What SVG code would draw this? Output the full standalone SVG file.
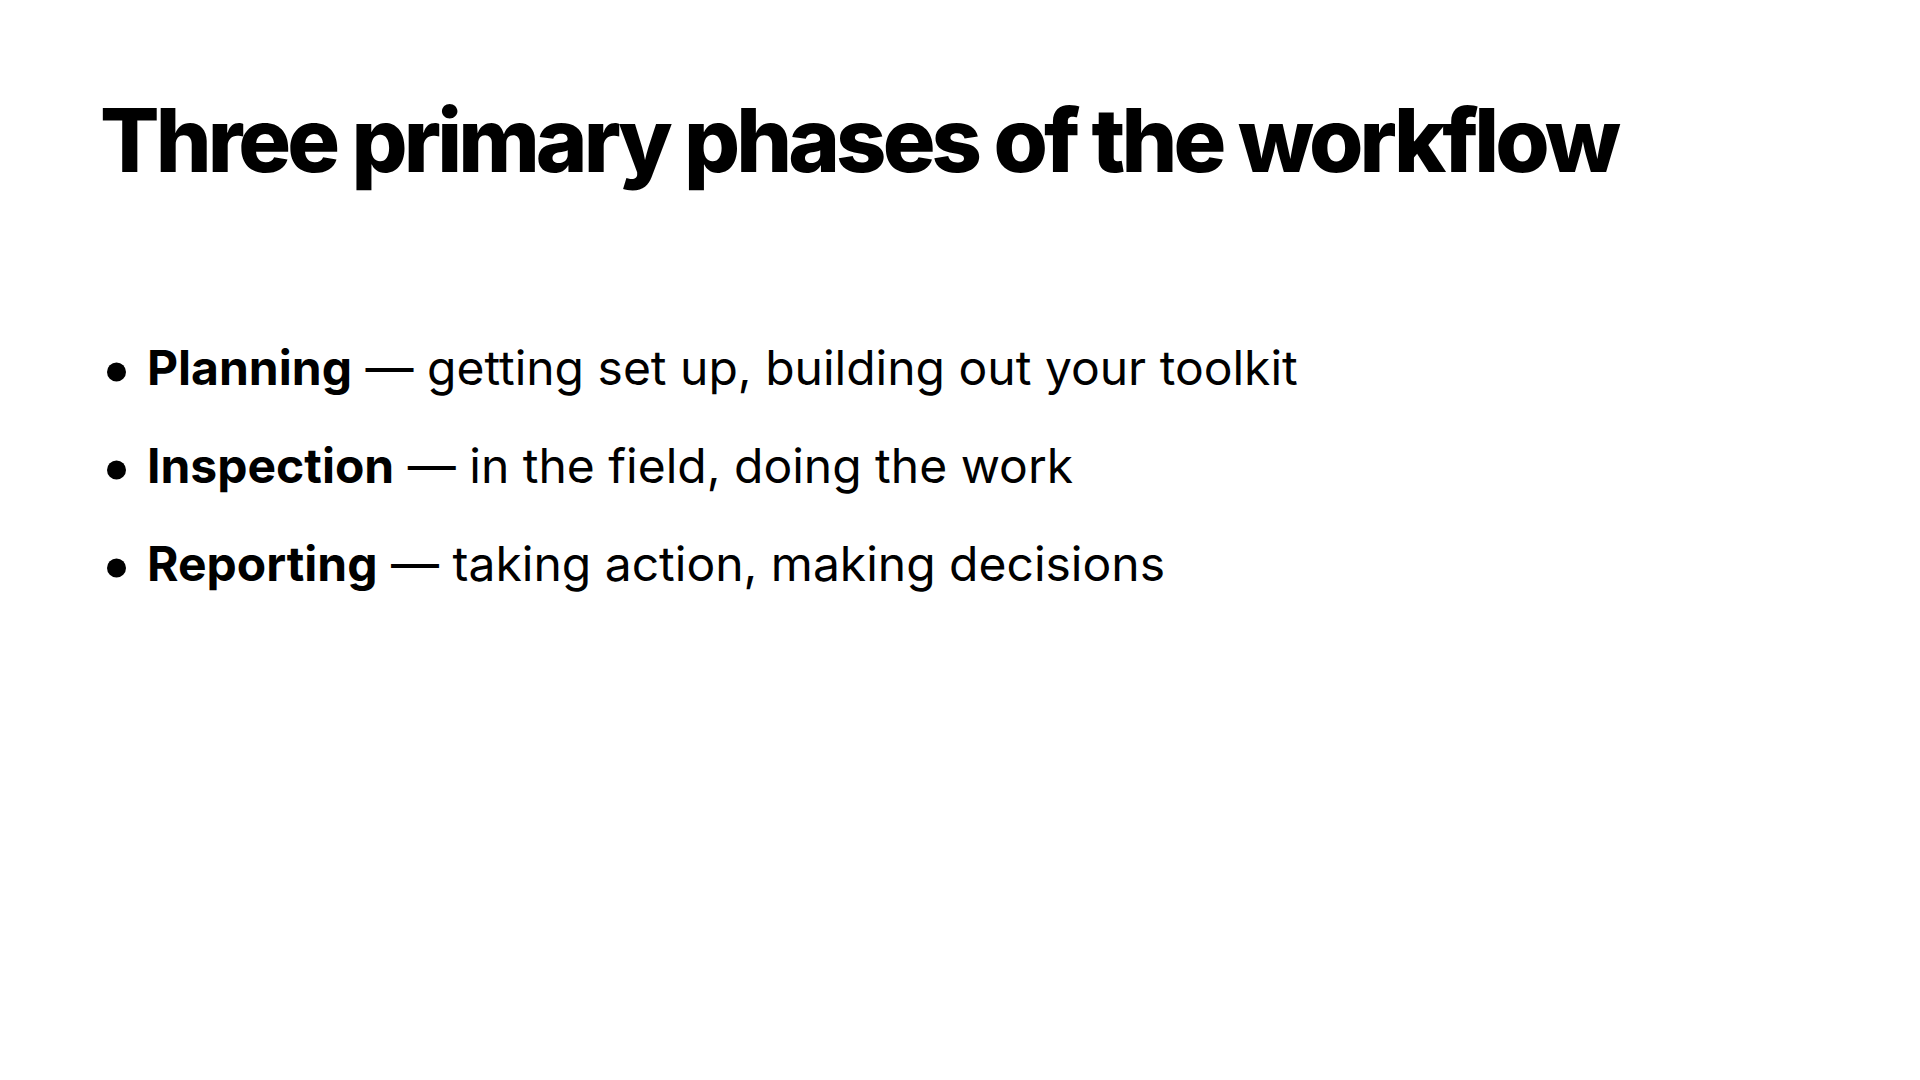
<svg xmlns="http://www.w3.org/2000/svg" width="1920" height="1080" viewBox="0 0 1920 1080">
<style>
.title{font-family:Inter,"Noto Sans",sans-serif;font-weight:800;font-size:88px;fill:#000;letter-spacing:-3.9px}
.item{font-family:Inter,"Noto Sans",sans-serif;font-weight:400;font-size:48px;fill:#000}
.b{font-weight:700}
.dot{fill:#000}
</style>
<rect width="1920" height="1080" fill="#fff"/>
<g id="title"><text class="title" x="100" y="172">Three primary phases of the workflow</text></g>
<g id="bullet-planning">
<circle class="dot" cx="116.5" cy="372" r="9.5"/>
<text class="item" x="147" y="385"><tspan class="b">Planning</tspan> — getting set up, building out your toolkit</text>
</g>
<g id="bullet-inspection">
<circle class="dot" cx="116.5" cy="470" r="9.5"/>
<text class="item" x="147" y="483"><tspan class="b">Inspection</tspan> — in the field, doing the work</text>
</g>
<g id="bullet-reporting">
<circle class="dot" cx="116.5" cy="568" r="9.5"/>
<text class="item" x="147" y="581"><tspan class="b">Reporting</tspan> — taking action, making decisions</text>
</g>
</svg>
